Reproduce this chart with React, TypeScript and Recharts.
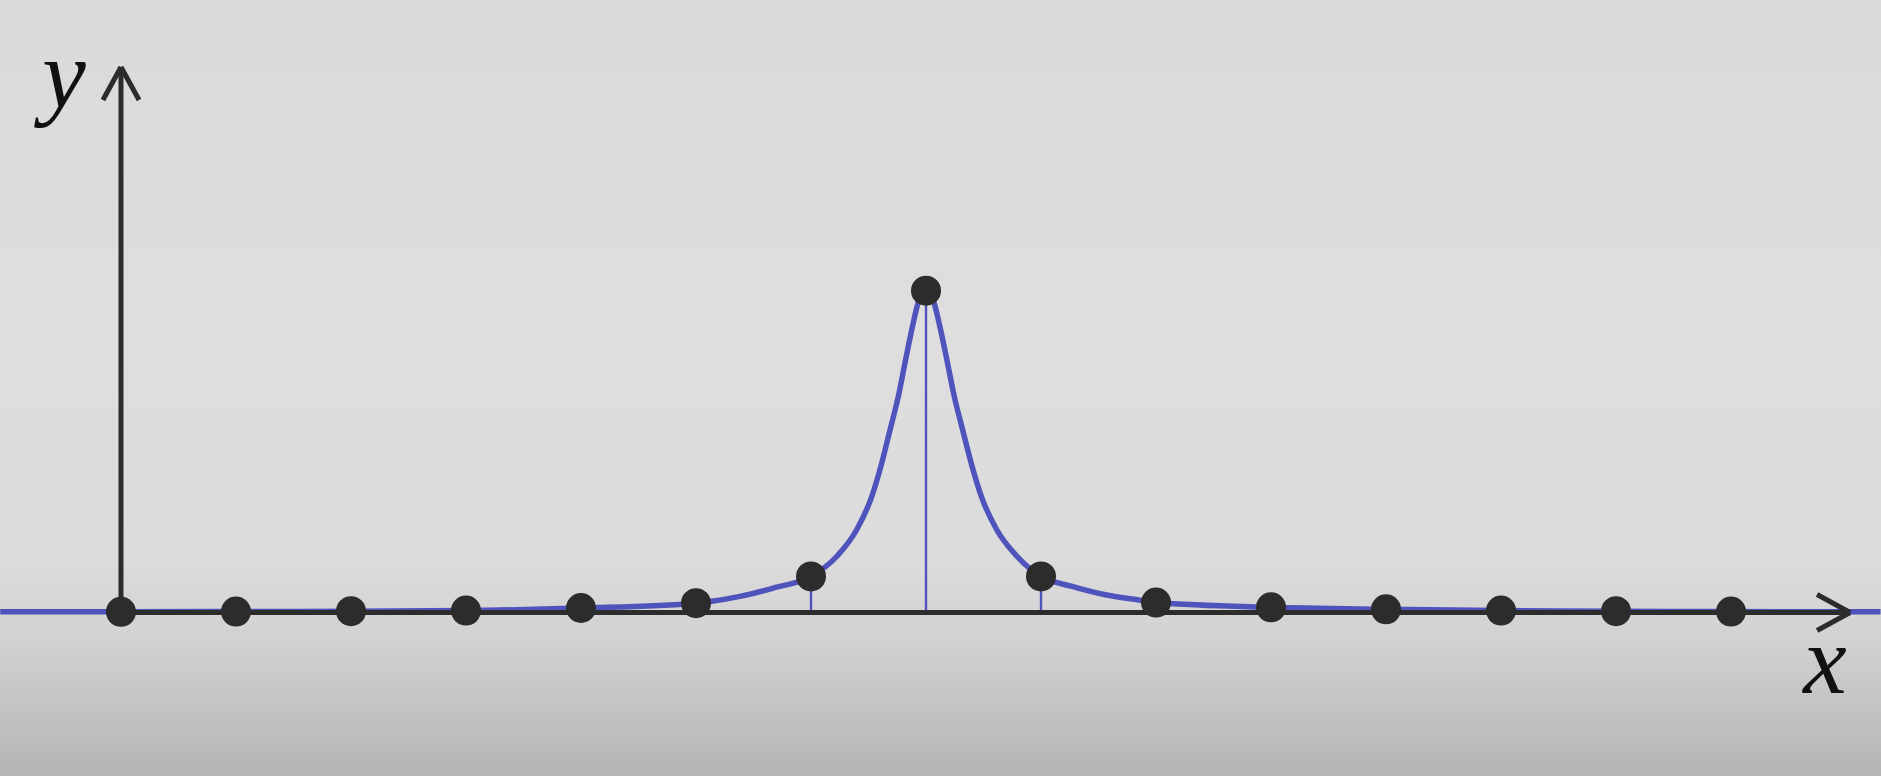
import React from "react";
import {
  ComposedChart,
  Line,
  Scatter,
  XAxis,
  YAxis,
  ReferenceLine,
  ReferenceDot,
} from "recharts";

// Sample points (dots) at integer x
const dotX = [0, 1, 2, 3, 4, 5, 6, 7, 8, 9, 10, 11, 12, 13, 14];
const dotY = [0.002, 0.003, 0.004, 0.006, 0.014, 0.029, 0.112, 1.0, 0.112, 0.031, 0.016, 0.01, 0.006, 0.004, 0.003];

// Continuous curve
const curveX = [
  -1.05, 0, 1, 2, 3, 4, 5, 5.122, 5.383, 5.672, 6.0, 6.223, 6.397, 6.528, 6.615, 6.687, 6.759, 6.817, 6.876, 6.939, 7.0,
  7.062, 7.127, 7.187, 7.246, 7.319, 7.393, 7.482, 7.615, 7.793, 8.0, 8.27, 8.559, 8.85, 9.0, 10, 11, 12, 13, 14, 15.3,
];
const curveY = [
  0.002, 0.002, 0.003, 0.004, 0.006, 0.014, 0.029, 0.034, 0.05, 0.076, 0.112, 0.174, 0.257, 0.36, 0.464, 0.567, 0.671, 0.775, 0.878, 0.971, 1.0,
  0.971, 0.878, 0.775, 0.671, 0.567, 0.464, 0.36, 0.257, 0.174, 0.112, 0.081, 0.055, 0.039, 0.031, 0.016, 0.01, 0.006, 0.004, 0.003, 0.002,
];

const axisLabels = ["x", "y"];

const curveData = curveX.map((x, i) => ({ x, y: curveY[i] }));
const dotData = dotX.map((x, i) => ({ x, y: dotY[i] }));

const X_DOMAIN: [number, number] = [-1.052, 15.304];
const Y_DOMAIN: [number, number] = [-0.508, 1.903];

const BLUE = "#4e54bc";
const DARK = "#2c2c2c";

const Y_TIP = 1.695;
const X_TIP = 15.035;

const labelShape = (txt: string) => (p: any) => (
  <text
    x={p.cx}
    y={p.cy}
    textAnchor="middle"
    fontFamily="'Liberation Serif', 'DejaVu Serif', serif"
    fontStyle="italic"
    fontSize={98}
    fill="#111"
  >
    {txt}
  </text>
);

export default function App() {
  return (
    <div
      style={{
        position: "fixed",
        left: 0,
        top: 0,
        width: 1881,
        height: 776,
        background:
          "linear-gradient(to bottom, #dadada 0%, #dedede 40%, #dcdcdc 72%, #d2d2d2 82%, #bdbdbd 95%, #b4b4b4 100%)",
      }}
    >
      <ComposedChart width={1881} height={776} margin={{ top: 0, right: 0, bottom: 0, left: 0 }}>
        <XAxis type="number" dataKey="x" domain={X_DOMAIN} hide allowDataOverflow />
        <YAxis type="number" dataKey="y" domain={Y_DOMAIN} hide allowDataOverflow />

        {/* stems */}
        {dotData.map((d) => (
          <ReferenceLine
            key={"s" + d.x}
            segment={[{ x: d.x, y: 0 }, { x: d.x, y: d.y }]}
            stroke={BLUE}
            strokeWidth={2.4}
            ifOverflow="visible"
          />
        ))}

        <Line
          data={curveData}
          dataKey="y"
          type="monotone"
          stroke={BLUE}
          strokeWidth={5.5}
          dot={false}
          activeDot={false}
          isAnimationActive={false}
        />

        {/* x axis */}
        <ReferenceLine segment={[{ x: 0, y: 0 }, { x: X_TIP, y: 0 }]} stroke={DARK} strokeWidth={5} ifOverflow="visible" />
        <ReferenceLine segment={[{ x: X_TIP - 0.287, y: 0.056 }, { x: X_TIP, y: 0 }]} stroke={DARK} strokeWidth={5} ifOverflow="visible" />
        <ReferenceLine segment={[{ x: X_TIP - 0.287, y: -0.056 }, { x: X_TIP, y: 0 }]} stroke={DARK} strokeWidth={5} ifOverflow="visible" />
        {/* y axis */}
        <ReferenceLine segment={[{ x: 0, y: 0 }, { x: 0, y: Y_TIP }]} stroke={DARK} strokeWidth={5} ifOverflow="visible" />
        <ReferenceLine segment={[{ x: -0.157, y: Y_TIP - 0.1026 }, { x: 0, y: Y_TIP }]} stroke={DARK} strokeWidth={5} ifOverflow="visible" />
        <ReferenceLine segment={[{ x: 0.157, y: Y_TIP - 0.1026 }, { x: 0, y: Y_TIP }]} stroke={DARK} strokeWidth={5} ifOverflow="visible" />

        <ReferenceDot x={14.817} y={-0.25} r={0} shape={labelShape(axisLabels[0])} ifOverflow="visible" />
        <ReferenceDot x={-0.496} y={1.571} r={0} shape={labelShape(axisLabels[1])} ifOverflow="visible" />

        <Scatter
          data={dotData}
          dataKey="y"
          isAnimationActive={false}
          shape={(p: any) => <circle cx={p.cx} cy={p.cy} r={15} fill={DARK} />}
        />
      </ComposedChart>
    </div>
  );
}
